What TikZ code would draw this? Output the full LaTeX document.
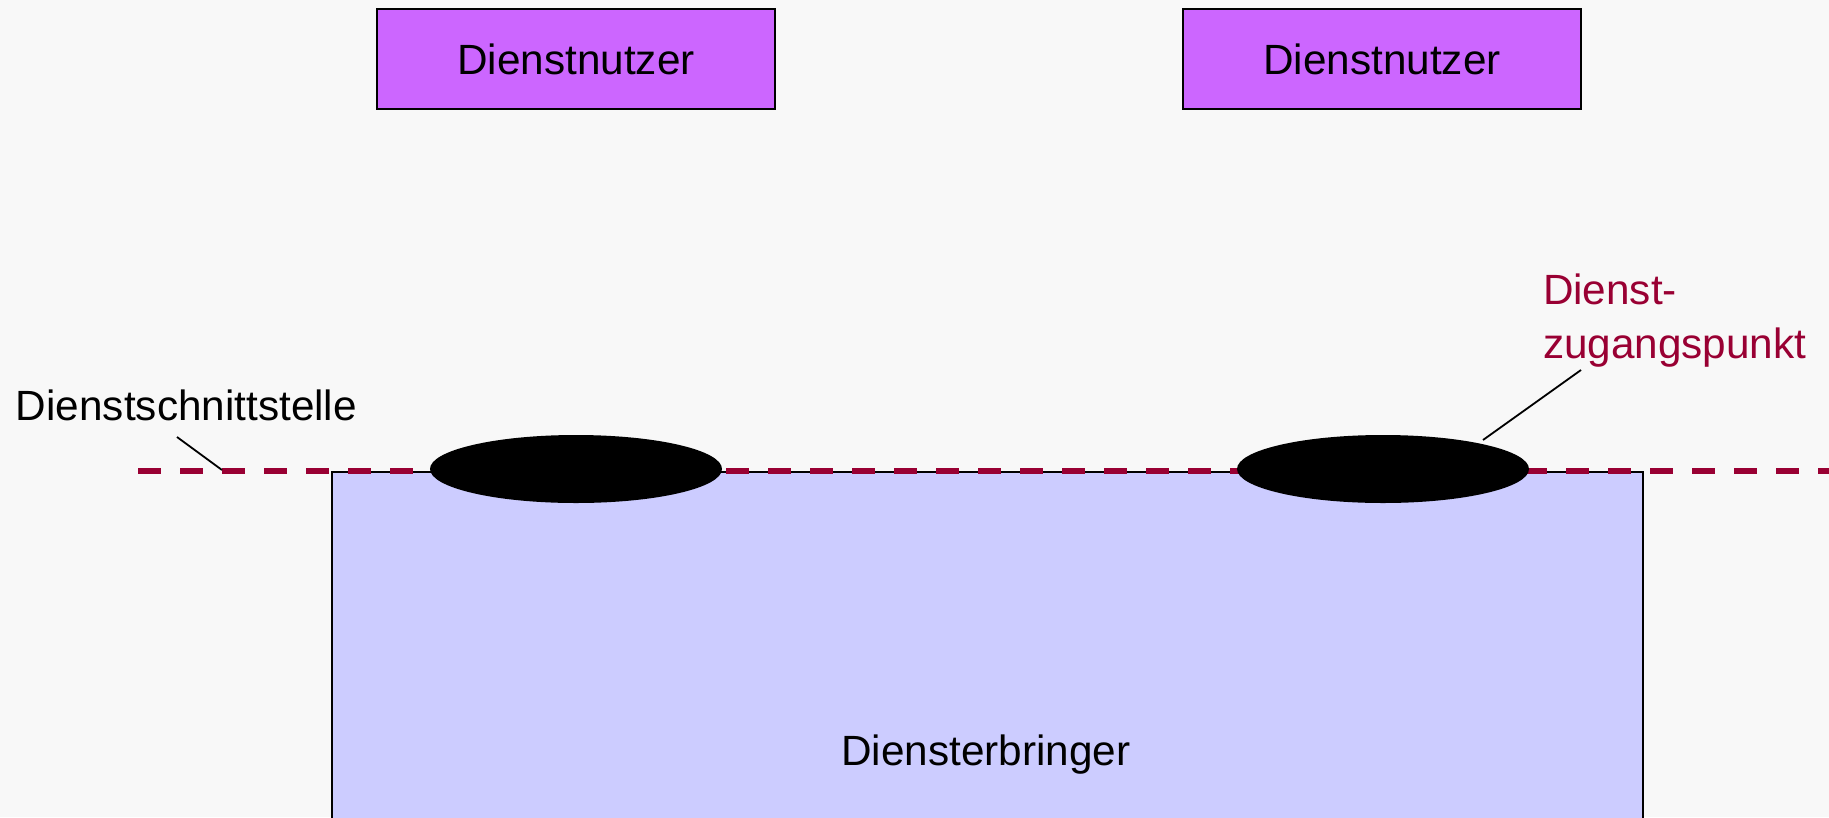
\documentclass[tikz,border=0pt]{standalone}
\usepackage{fontspec}
\setmainfont{Liberation Sans}
\usetikzlibrary{shapes.geometric}
\definecolor{bgcol}{HTML}{F8F8F8}
\definecolor{userfill}{HTML}{CC66FF}
\definecolor{provfill}{HTML}{CCCCFF}
\definecolor{ifcol}{HTML}{990033}
\begin{document}
\begin{tikzpicture}[x=1pt,y=-1pt,
  lbl/.style={font=\fontsize{42.3}{54}\selectfont, inner sep=0pt, outer sep=0pt},
  userbox/.style={lbl, draw=black, line width=2pt, fill=userfill,
    minimum width=398pt, minimum height=100pt},
  provbox/.style={draw=black, line width=2pt, fill=provfill,
    minimum width=1311pt, minimum height=440pt, inner sep=0pt, anchor=north west},
  sap/.style={ellipse, fill=black, minimum width=292pt, minimum height=68pt, inner sep=0pt},
  iface/.style={draw=ifcol, line width=6pt, dash pattern=on 23pt off 19pt},
  leader/.style={draw=black, line width=1.8pt}]
  % canvas
  \clip (0,0) rectangle (1829,817);
  \fill[bgcol] (0,0) rectangle (1829,817);

  % service provider block (runs past the lower edge)
  \node[provbox] (prov) at (331,471) {};
  \node[lbl, anchor=base] (provtext) at (986,765) {Diensterbringer};

  % service users
  \node[userbox] (user1) at (576,59) {Dienstnutzer};
  \node[userbox] (user2) at (1382,59) {Dienstnutzer};

  % service interface line
  \coordinate (ifl) at (138,471);
  \coordinate (ifr) at (1850,471);
  \draw[iface] (ifl) -- (ifr);

  % service access points
  \node[sap] (sap1) at (576,469) {};
  \node[sap] (sap2) at (1383,469) {};

  % labels with leader lines
  \node[lbl, anchor=base west] (iflabel) at (16,420) {Dienstschnittstelle};
  \coordinate (ifa) at (177,437);
  \coordinate (ifb) at (222,470);
  \draw[leader] (ifa) -- (ifb);

  % base anchor of a two-line node sits on the last line
  \node[lbl, anchor=base west, align=left, text=ifcol] (saplabel) at (1543,358)
    {Dienst-\\zugangspunkt};
  \coordinate (sapa) at (1581,370);
  \coordinate (sapb) at (1483,440);
  \draw[leader] (sapa) -- (sapb);
\end{tikzpicture}
\end{document}
